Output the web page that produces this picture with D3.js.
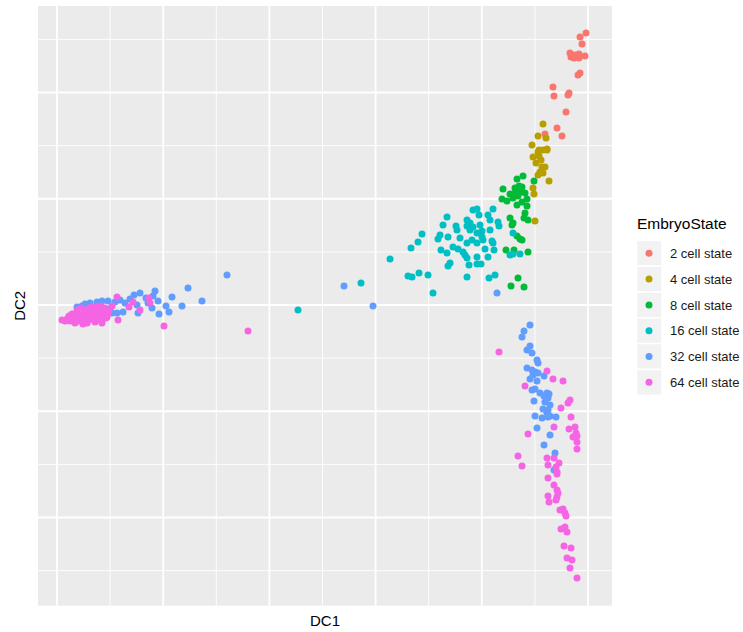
<!DOCTYPE html>
<html><head><meta charset="utf-8">
<script src="https://cdn.jsdelivr.net/npm/d3@7"></script>
<style>body{margin:0;background:#fff}svg{display:block}</style>
</head><body>
<script>
// Data (DC1, DC2 in arbitrary units)
const categories = ["2 cell state","4 cell state","8 cell state","16 cell state","32 cell state","64 cell state"];
const colors = ["#F8766D","#B79F00","#00BA38","#00BFC4","#619CFF","#F564E3"];
const cell2 = [[529,272],[523,268],[525,261],[513,252],[514,248],[518,250],[522,251],[522,247],[528,249],[517,247],[523,232],[521,230],[496,218],[497,209],[512,212],[511,210],[509,193],[500,177],[488,171],[505,169]];
const cell4 = [[486,181],[481,169],[489,167],[475,160],[482,155],[490,156],[481,153],[486,155],[490,155],[476,148],[482,149],[484,145],[479,142],[485,138],[488,138],[483,133],[481,130],[486,132],[492,124],[476,117],[477,111],[478,84]];
const cell8 = [[460,126],[466,129],[477,124],[462,119],[458,117],[465,118],[446,116],[453,111],[458,112],[463,113],[468,112],[445,106],[450,104],[456,107],[460,100],[465,103],[470,99],[461,109],[470,106],[468,92],[467,87],[471,85],[453,87],[456,82],[455,80],[460,69],[463,66],[465,65],[449,55],[457,55],[471,53],[461,27],[454,19],[467,18]];
const cell16 = [[416,95],[420,96],[436,96],[390,88],[422,90],[431,90],[410,85],[413,82],[433,85],[441,83],[386,80],[399,79],[410,79],[416,78],[423,80],[442,79],[400,75],[413,75],[425,74],[433,75],[456,72],[365,71],[383,70],[420,72],[425,68],[381,66],[391,68],[403,67],[415,65],[426,65],[435,64],[361,63],[410,62],[420,62],[436,62],[354,57],[396,58],[401,56],[428,56],[384,55],[406,53],[437,55],[390,52],[408,50],[453,50],[456,51],[463,51],[420,48],[431,48],[410,47],[333,46],[393,42],[391,39],[412,40],[420,41],[424,41],[351,29],[355,28],[362,32],[371,30],[410,28],[432,27],[438,30],[376,12],[304,22],[241,-5]];
const cell32 = [[440,12],[170,30],[145,4],[287,19],[316,-1],[131,17],
  [115,8],[98,14],[96,9],[83,12],[77,10],[73,6],[89,7],[101,4],[91,2],[109,-1],[125,-1],[95,-3],[80,0],[112,-7],[102,-9],[81,-8],[66,-7],[60,-8],[53,-4],[58,3],[51,4],[45,4],[40,3],[33,2],[25,-1],[50,-12],[55,-8],[28,1],[36,-5],[43,-1],[20,-2],[63,5],[68,2],
  [473,-20],[467,-26],[465,-32],[473,-41],[470,-45],[475,-48],[480,-55],[481,-58],[470,-63],[475,-65],[478,-67],[481,-68],[476,-70],[487,-71],[473,-74],[480,-76],[475,-85],[478,-84],[483,-88],[490,-88],[492,-89],[487,-91],[491,-93],[477,-96],[488,-97],[493,-100],[486,-104],[491,-105],[490,-108],[493,-111],[485,-113],[491,-112],[499,-112],[478,-111],[480,-123],[493,-130],[487,-140],[498,-148],[497,-165]];
const cell64 = [[191,-26],[107,-21],
  [60,8],[92,7],[93,2],[76,3],[72,-2],[83,-5],[55,-1],[61,-15],[45,-18],
  [5,-15],[8,-16],[10,-14],[13,-16],[16,-15],[19,-14],[22,-16],[25,-15],[28,-13],[31,-15],[34,-14],[37,-12],[40,-15],[43,-13],[46,-11],[49,-13],[12,-11],[15,-9],[18,-11],[21,-9],[24,-11],[27,-8],[30,-10],[33,-7],[36,-9],[39,-6],[42,-8],[45,-5],[48,-7],[51,-9],[20,-5],[24,-3],[28,-6],[32,-3],[36,-4],[40,-2],[44,-1],[48,-3],[52,-6],[30,-18],[38,-17],[18,-18],[26,-19],[35,-2],[14,-13],
  [442,-47],[490,-66],[496,-74],[506,-76],[468,-81],[513,-95],[511,-98],[504,-103],[514,-112],[497,-122],[512,-124],[518,-122],[519,-128],[520,-131],[516,-132],[520,-137],[520,-144],[471,-129],[461,-151],[490,-153],[497,-153],[465,-161],[502,-158],[491,-160],[499,-162],[500,-167],[500,-169],[491,-173],[497,-180],[500,-185],[501,-188],[491,-191],[500,-192],[499,-195],[492,-197],[503,-205],[506,-204],[508,-208],[509,-211],[504,-224],[508,-222],[510,-227],[507,-241],[514,-243],[510,-253],[515,-255],[513,-263],[520,-273]];
const seriesValues = [cell2, cell4, cell8, cell16, cell32, cell64];
const xDomain = [-19, 555], yDomain = [-300.7, 299];
const xMajorStep = 106.2, yMajorStep = 106.25;
const xTitle = "DC1", yTitle = "DC2", legendTitle = "EmbryoState";

const W = 743, H = 632;
const panel = {left: 38, right: 612, top: 6, bottom: 605.7};
const svg = d3.select("body").append("svg").attr("width", W).attr("height", H)
  .style("font-family", "'Liberation Sans', Arial, Helvetica, sans-serif");

const x = d3.scaleLinear().domain(xDomain).range([panel.left, panel.right]);
const y = d3.scaleLinear().domain(yDomain).range([panel.bottom, panel.top]);

svg.append("rect").attr("x", panel.left).attr("y", panel.top)
  .attr("width", panel.right-panel.left).attr("height", panel.bottom-panel.top).attr("fill", "#EBEBEB");

function ticks(dom, step, offset) {
  const out = [];
  const start = Math.ceil((dom[0]-offset)/step);
  for (let k = start; k*step+offset <= dom[1]; k++) out.push(k*step+offset);
  return out;
}
const g = svg.append("g");
const xd = x.domain(), yd = y.domain();
ticks(xd, xMajorStep, xMajorStep/2).forEach(v => g.append("line").attr("x1", x(v)).attr("x2", x(v)).attr("y1", panel.top).attr("y2", panel.bottom).attr("stroke", "#fff").attr("stroke-width", 0.9));
ticks(yd, yMajorStep, yMajorStep/2).forEach(v => g.append("line").attr("y1", y(v)).attr("y2", y(v)).attr("x1", panel.left).attr("x2", panel.right).attr("stroke", "#fff").attr("stroke-width", 0.9));
ticks(xd, xMajorStep, 0).forEach(v => g.append("line").attr("x1", x(v)).attr("x2", x(v)).attr("y1", panel.top).attr("y2", panel.bottom).attr("stroke", "#fff").attr("stroke-width", 1.8));
ticks(yd, yMajorStep, 0).forEach(v => g.append("line").attr("y1", y(v)).attr("y2", y(v)).attr("x1", panel.left).attr("x2", panel.right).attr("stroke", "#fff").attr("stroke-width", 1.8));

seriesValues.forEach((pts, i) => {
  svg.append("g").selectAll("circle").data(pts).join("circle")
    .attr("cx", d => x(d[0])).attr("cy", d => y(d[1])).attr("r", 3.5).attr("fill", colors[i]);
});

svg.append("text").attr("x", (panel.left+panel.right)/2).attr("y", 626).attr("text-anchor", "middle")
  .attr("font-size", 15).attr("fill", "#000").text(xTitle);
svg.append("text").attr("transform", `translate(25,${(panel.top+panel.bottom)/2}) rotate(-90)`).attr("text-anchor", "middle")
  .attr("font-size", 15).attr("fill", "#000").text(yTitle);

const lg = svg.append("g");
lg.append("text").attr("x", 637).attr("y", 228.5).attr("font-size", 15.5).attr("fill", "#000").text(legendTitle);
const keyH = 25.8, keyTop = 240.4;
categories.forEach((c, i) => {
  const cy = keyTop + i*keyH + keyH/2;
  lg.append("rect").attr("x", 636.5).attr("y", keyTop + i*keyH).attr("width", 25.5).attr("height", keyH)
    .attr("fill", "#F2F2F2").attr("stroke", "#fff").attr("stroke-width", 1.5);
  lg.append("circle").attr("cx", 649).attr("cy", cy).attr("r", 3.5).attr("fill", colors[i]);
  lg.append("text").attr("x", 670).attr("y", cy + 4.7).attr("font-size", 13).attr("fill", "#1a1a1a").text(c);
});
</script>
</body></html>
